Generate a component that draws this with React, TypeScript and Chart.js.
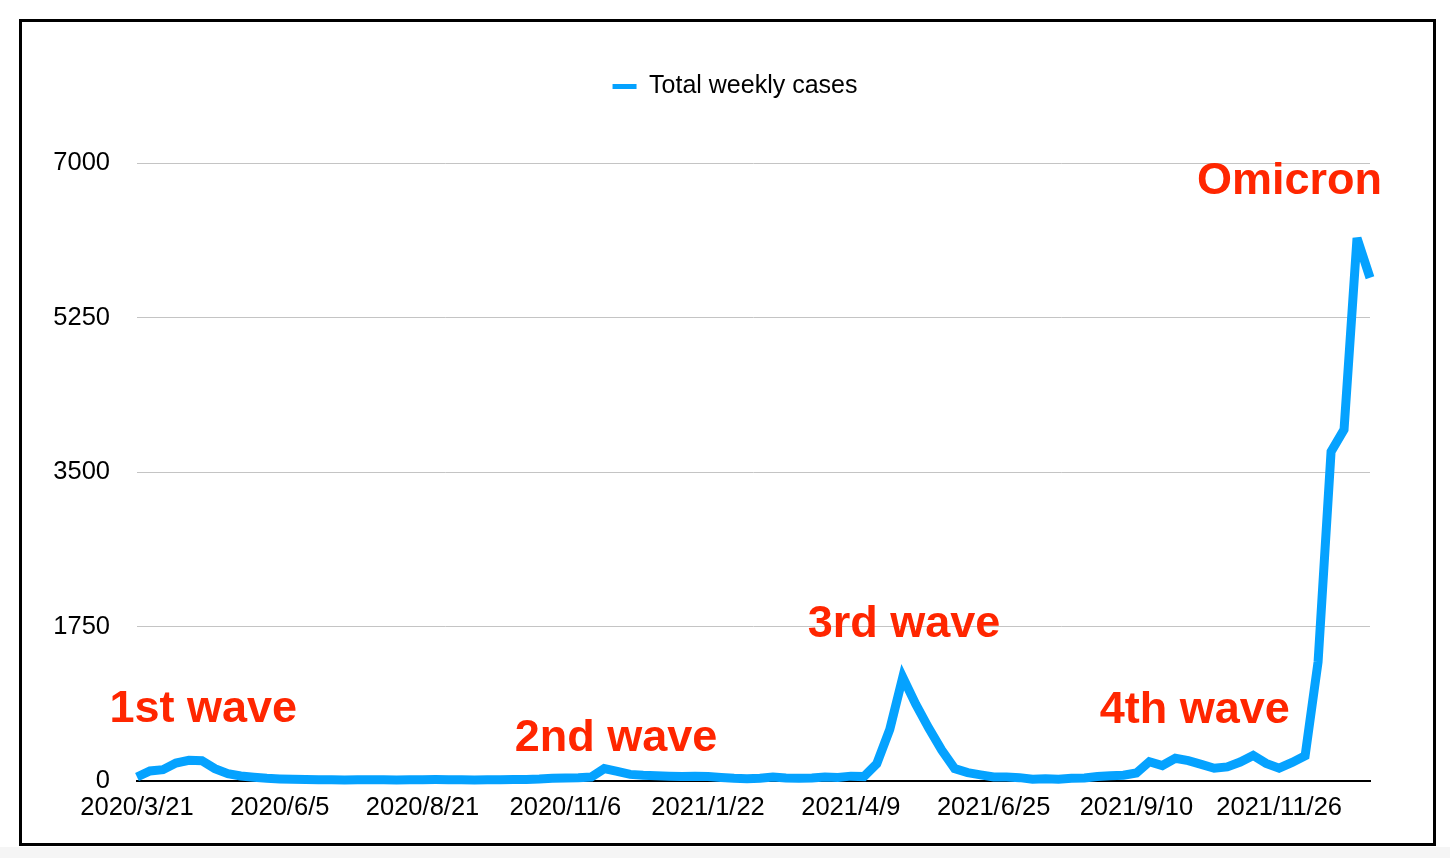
import React, { useEffect, useRef } from "react";
import { Chart, registerables } from "chart.js";

Chart.register(...registerables);

// ---------- data ----------
const CATEGORIES: string[] = [
  "2020/3/21", "2020/3/27", "2020/4/3", "2020/4/10", "2020/4/17", "2020/4/24", "2020/5/1", "2020/5/8",
  "2020/5/15", "2020/5/22", "2020/5/29", "2020/6/5", "2020/6/12", "2020/6/19", "2020/6/26", "2020/7/3",
  "2020/7/10", "2020/7/17", "2020/7/24", "2020/7/31", "2020/8/7", "2020/8/14", "2020/8/21", "2020/8/28",
  "2020/9/4", "2020/9/11", "2020/9/18", "2020/9/25", "2020/10/2", "2020/10/9", "2020/10/16", "2020/10/23",
  "2020/10/30", "2020/11/6", "2020/11/13", "2020/11/20", "2020/11/27", "2020/12/4", "2020/12/11", "2020/12/18",
  "2020/12/25", "2021/1/1", "2021/1/8", "2021/1/15", "2021/1/22", "2021/1/29", "2021/2/5", "2021/2/12",
  "2021/2/19", "2021/2/26", "2021/3/5", "2021/3/12", "2021/3/19", "2021/3/26", "2021/4/2", "2021/4/9",
  "2021/4/16", "2021/4/23", "2021/4/30", "2021/5/7", "2021/5/14", "2021/5/21", "2021/5/28", "2021/6/4",
  "2021/6/11", "2021/6/18", "2021/6/25", "2021/7/2", "2021/7/9", "2021/7/16", "2021/7/23", "2021/7/30",
  "2021/8/6", "2021/8/13", "2021/8/20", "2021/8/27", "2021/9/3", "2021/9/10", "2021/9/17", "2021/9/24",
  "2021/10/1", "2021/10/8", "2021/10/15", "2021/10/22", "2021/10/29", "2021/11/5", "2021/11/12", "2021/11/19",
  "2021/11/26", "2021/12/3", "2021/12/10", "2021/12/17", "2021/12/24", "2021/12/31", "2022/1/7", "2022/1/14",
];

const TICK_LABELS: string[] = [
  "2020/3/21", "2020/6/5", "2020/8/21", "2020/11/6", "2021/1/22",
  "2021/4/9", "2021/6/25", "2021/9/10", "2021/11/26",
];

const WEEKLY_CASES: number[] = [
  45, 113, 128, 204, 234, 230, 140, 83, 57, 42,
  30, 24, 20, 16, 14, 14, 12, 14, 15, 13,
  12, 13, 15, 16, 15, 13, 12, 13, 14, 16,
  18, 22, 30, 35, 38, 45, 140, 110, 75, 65,
  60, 55, 50, 55, 50, 40, 30, 25, 30, 45,
  35, 30, 35, 45, 40, 55, 50, 196, 585, 1175,
  870, 600, 350, 140, 95, 70, 45, 45, 38, 20,
  25, 20, 30, 35, 50, 60, 65, 90, 219, 175,
  257, 230, 189, 145, 160, 215, 290, 200, 145, 210,
  285, 1350, 3730, 3980, 6150, 5700,
];

const SERIES_NAME = "Total weekly cases";

const Y_MIN = 0;
const Y_MAX = 7000;
const Y_STEP = 1750;

const ANNOTATION_TEXTS: string[] = ["1st wave", "2nd wave", "3rd wave", "4th wave", "Omicron"];
const ANNOTATION_WEEK_POS: number[] = [5.1, 36.9, 59.1, 81.5, 88.8];
const ANNOTATION_VALUE_POS: number[] = [806, 476, 1776, 796, 6786];

// ---------- style ----------
const LINE_COLOR = "#05A2FF";
const ANNOTATION_COLOR = "#FF2600";
const FONT_FAMILY = '"Liberation Sans", Arial, Helvetica, sans-serif';

const CANVAS_W = 1411;
const CANVAS_H = 820;
const LEGEND_SHIFT = 33;

const annotationPlugin = {
  id: "waveLabels",
  afterDatasetsDraw(chart: any) {
    const { ctx, scales } = chart;
    const xs = scales.x;
    const ys = scales.y;
    ctx.save();
    ctx.font = `bold 45px ${FONT_FAMILY}`;
    ctx.fillStyle = ANNOTATION_COLOR;
    ctx.textAlign = "center";
    ctx.textBaseline = "middle";
    ANNOTATION_TEXTS.forEach((t, i) => {
      ctx.fillText(
        t,
        xs.getPixelForValue(ANNOTATION_WEEK_POS[i]),
        ys.getPixelForValue(ANNOTATION_VALUE_POS[i])
      );
    });
    ctx.restore();
  },
};

const miterPlugin = {
  id: "miterLimit",
  beforeDatasetsDraw(chart: any) {
    chart.ctx.save();
    chart.ctx.miterLimit = 4;
  },
  afterDatasetsDraw(chart: any) {
    chart.ctx.restore();
  },
};

const legendSpacingPlugin = {
  id: "legendSpacing",
  beforeInit(chart: any) {
    const legend = chart.legend;
    if (!legend) return;
    const origFit = legend.fit;
    legend.fit = function () {
      origFit.call(this);
      this.height = 99;
    };
  },
  afterLayout(chart: any) {
    const legend = chart.legend;
    if (!legend) return;
    legend.left += LEGEND_SHIFT;
    legend.right += LEGEND_SHIFT;
  },
};

function LineChart() {
  const canvasRef = useRef<HTMLCanvasElement | null>(null);

  useEffect(() => {
    if (!canvasRef.current) return;
    Chart.defaults.font.family = FONT_FAMILY;
    const chart = new Chart(canvasRef.current, {
      type: "line",
      data: {
        labels: CATEGORIES,
        datasets: [
          {
            label: SERIES_NAME,
            data: WEEKLY_CASES,
            borderColor: LINE_COLOR,
            backgroundColor: LINE_COLOR,
            borderWidth: 9,
            pointRadius: 0,
            pointHoverRadius: 0,
            tension: 0,
            fill: false,
            borderJoinStyle: "miter",
            borderCapStyle: "butt",
            clip: false as any,
          },
        ],
      },
      options: {
        animation: false,
        responsive: false,
        devicePixelRatio: 1,
        layout: { padding: { left: 12, right: 63, top: 42, bottom: 0 } },
        plugins: {
          legend: {
            position: "top",
            align: "center",
            labels: {
              color: "#000",
              font: { size: 25, family: FONT_FAMILY },
              boxWidth: 24,
              boxHeight: 5,
              padding: 10,
              generateLabels: () => [
                {
                  text: SERIES_NAME,
                  fillStyle: LINE_COLOR,
                  strokeStyle: LINE_COLOR,
                  lineWidth: 0,
                  hidden: false,
                  datasetIndex: 0,
                  fontColor: "#000",
                } as any,
              ],
            },
          },
          tooltip: { enabled: false },
        },
        scales: {
          x: {
            type: "category",
            grid: { display: false, drawTicks: false },
            border: { display: true, color: "#000", width: 2 },
            ticks: {
              autoSkip: false,
              maxRotation: 0,
              minRotation: 0,
              padding: 12,
              color: "#000",
              font: { size: 25.5, family: FONT_FAMILY },
              callback: (_v: any, idx: number) =>
                TICK_LABELS.includes(CATEGORIES[idx]) ? CATEGORIES[idx] : "",
            },
            afterFit: (s: any) => {
              s.height = 61;
            },
          },
          y: {
            min: Y_MIN,
            max: Y_MAX,
            border: { display: false },
            grid: {
              drawTicks: false,
              lineWidth: 1,
              color: (c: any) => (c.tick && c.tick.value === 0 ? "rgba(0,0,0,0)" : "#c4c4c4"),
            },
            ticks: {
              stepSize: Y_STEP,
              padding: 27,
              color: "#000",
              font: { size: 25.5, family: FONT_FAMILY },
              callback: (v: any) => String(v),
            },
            afterFit: (s: any) => {
              s.width = 103;
            },
          },
        },
      },
      plugins: [miterPlugin, annotationPlugin, legendSpacingPlugin],
    });
    return () => chart.destroy();
  }, []);

  return (
    <canvas
      ref={canvasRef}
      width={CANVAS_W}
      height={CANVAS_H}
      style={{ position: "absolute", left: 22, top: 22, width: CANVAS_W, height: CANVAS_H }}
    />
  );
}

export default function App() {
  return (
    <div
      style={{
        position: "absolute",
        left: 0,
        top: 0,
        width: 1450,
        height: 858,
        background: "#fff",
        overflow: "hidden",
      }}
    >
      <div
        style={{
          position: "absolute",
          left: 19,
          top: 19,
          width: 1417,
          height: 827,
          boxSizing: "border-box",
          border: "3px solid #000",
        }}
      />
      <div
        style={{
          position: "absolute",
          left: 0,
          top: 847,
          width: 1450,
          height: 11,
          background: "#f5f5f5",
        }}
      />
      <LineChart />
    </div>
  );
}
